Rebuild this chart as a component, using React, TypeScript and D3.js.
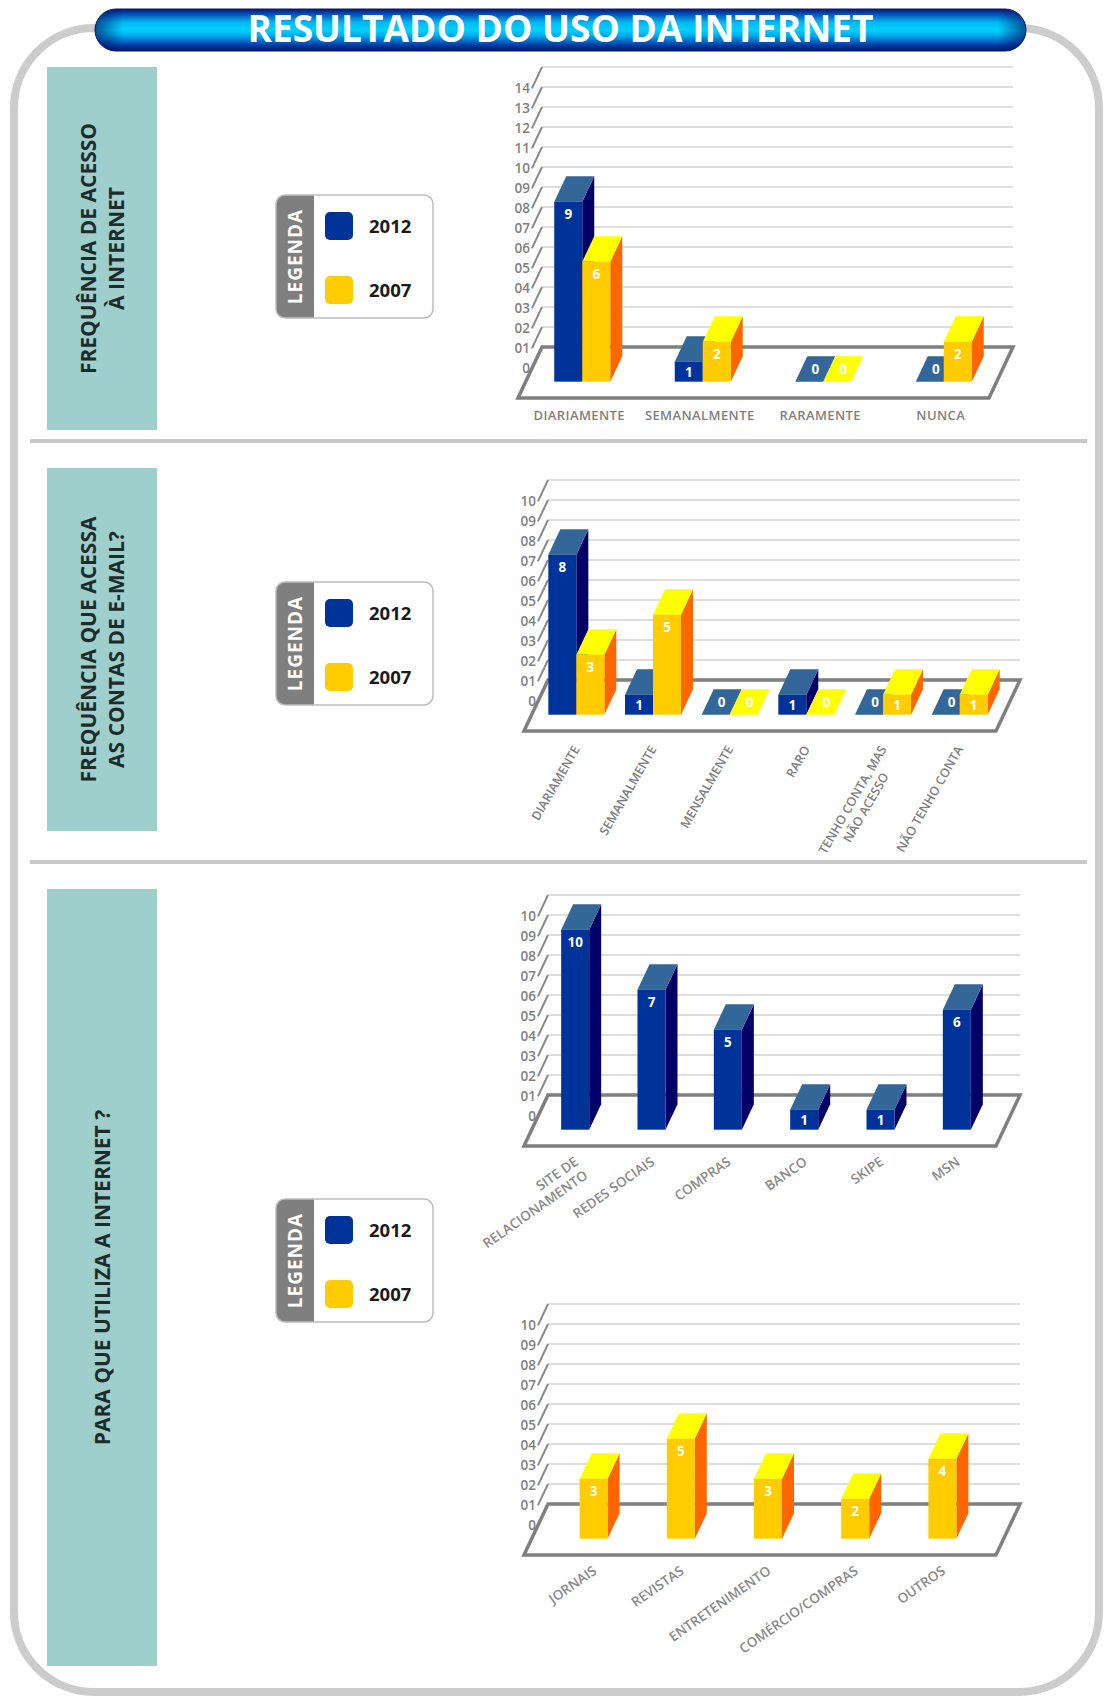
import React from 'react';
import * as d3 from 'd3';

// ---------------- DATA ----------------
const title = 'RESULTADO DO USO DA INTERNET';
const legendYears = ['2012', '2007'];

const freqCategories = ['DIARIAMENTE', 'SEMANALMENTE', 'RARAMENTE', 'NUNCA'];
const freq2012 = [9, 1, 0, 0];
const freq2007 = [6, 2, 0, 2];

const emailCategories = ['DIARIAMENTE', 'SEMANALMENTE', 'MENSALMENTE', 'RARO', 'TENHO CONTA, MAS\nNÃO ACESSO', 'NÃO TENHO CONTA'];
const email2012 = [8, 1, 0, 1, 0, 0];
const email2007 = [3, 5, 0, 0, 1, 1];

const useCategories = ['SITE DE\nRELACIONAMENTO', 'REDES SOCIAIS', 'COMPRAS', 'BANCO', 'SKIPE', 'MSN'];
const use2012 = [10, 7, 5, 1, 1, 6];

const mediaCategories = ['JORNAIS', 'REVISTAS', 'ENTRETENIMENTO', 'COMÉRCIO/COMPRAS', 'OUTROS'];
const media2007 = [3, 5, 3, 2, 4];

const ticks14 = ['0', '01', '02', '03', '04', '05', '06', '07', '08', '09', '10', '11', '12', '13', '14'];
const ticks10 = ['0', '01', '02', '03', '04', '05', '06', '07', '08', '09', '10'];

const sectionTitles = [
  ['FREQUÊNCIA DE ACESSO', 'À INTERNET'],
  ['FREQUÊNCIA QUE ACESSA', 'AS CONTAS DE E-MAIL?'],
  ['PARA QUE UTILIZA A INTERNET ?'],
];

// ---------------- STYLE / LAYOUT ----------------
const W = 1109, H = 1699;
const FONT = "'Open Sans', 'DejaVu Sans', sans-serif";
const PAL: Record<string, { front: string; side: string; top: string; key: string }> = {
  blue: { front: '#003399', side: '#000066', top: '#336699', key: '#003399' },
  yellow: { front: '#ffcc00', side: '#ff6600', top: '#ffff00', key: '#ffcc00' },
};
const DX = 24, DY = 51;          // floor depth vector (right, up)
const UNIT = 20;                 // px per unit
const BAR_W = 28;
const FRONT_FRAC = 0.68;         // bar front plane, fraction of depth from back wall
const BAR_DEPTH = 0.5;           // bar depth fraction
const SIDE_FRAC = 0.42;          // side wall depth fraction

let measureCtx: CanvasRenderingContext2D | null = null;
function textW(t: string, font: string) {
  if (!measureCtx) measureCtx = document.createElement('canvas').getContext('2d');
  if (!measureCtx) return t.length * 7;
  measureCtx.font = font;
  return measureCtx.measureText(t).width;
}

type SeriesCfg = { values: number[]; color: string };
type ChartCfg = {
  categories: string[];
  series: SeriesCfg[];
  ticks: string[];
  backY: number;
  backLeft: number;
  backRight: number;
  bandRange: [number, number];
  angle: number;
  align: 'center' | 'end';
  weight: number;
  labelSize: number;
  labelColor: string;
};

function pts(p: [number, number][]) {
  return p.map((d) => d.join(',')).join(' ');
}

function Chart3D({ cfg }: { cfg: ChartCfg }) {
  const { categories, series, ticks, backY, backLeft, backRight, bandRange, angle, align, weight, labelSize, labelColor } = cfg;
  const maxV = ticks.length - 1;
  const frontBottom = backY + FRONT_FRAC * DY;
  const floorFront = backY + DY;
  const y = d3.scaleLinear().domain([0, maxV]).range([frontBottom, frontBottom - maxV * UNIT]);
  const gy = d3.scaleLinear().domain([0, maxV]).range([backY, backY - maxV * UNIT]);
  const x = d3.scaleBand<string>().domain(categories).range(bandRange);
  const bdx = DX * BAR_DEPTH, bdy = -DY * BAR_DEPTH;
  const sdx = DX * SIDE_FRAC, sdy = DY * SIDE_FRAC;
  const n = series.length;

  const bars: JSX.Element[] = [];
  categories.forEach((c, ci) => {
    const cx = (x(c) as number) + x.bandwidth() / 2;
    series.forEach((s, si) => {
      const v = s.values[ci];
      const p = PAL[s.color];
      const x0 = cx - (n * BAR_W) / 2 + si * BAR_W;
      const x1 = x0 + BAR_W;
      const yb = y(0);
      const yt = y(v);
      const key = `${ci}-${si}`;
      if (v > 0) {
        bars.push(
          <g key={key}>
            <polygon points={pts([[x1, yt], [x1 + bdx, yt + bdy], [x1 + bdx, yb + bdy], [x1, yb]])} fill={p.side} />
            <polygon points={pts([[x0, yt], [x1, yt], [x1 + bdx, yt + bdy], [x0 + bdx, yt + bdy]])} fill={p.top} />
            <rect x={x0} y={yt} width={BAR_W} height={yb - yt} fill={p.front} />
            <text x={(x0 + x1) / 2} y={yt + Math.min(12.5, (yb - yt) / 2)} dy="0.36em" textAnchor="middle"
              fill="#fff" fontWeight={700} fontSize={13.5}>{v}</text>
          </g>
        );
      } else {
        bars.push(
          <g key={key}>
            <polygon points={pts([[x0, yb], [x1, yb], [x1 + bdx, yb + bdy], [x0 + bdx, yb + bdy]])} fill={p.top} />
            <text x={(x0 + x1) / 2 + bdx / 2} y={yb + bdy / 2} dy="0.36em" textAnchor="middle"
              fill="#fff" fontWeight={700} fontSize={13.5}>{v}</text>
          </g>
        );
      }
    });
  });

  const labelFont = `${weight} ${labelSize}px ${FONT}`;
  const catLabels = categories.map((c) => {
    const cx = (x(c) as number) + x.bandwidth() / 2;
    const lines = c.split('\n');
    if (angle === 0) {
      return (
        <text key={c} x={cx - 3} y={floorFront + 17} dy="0.36em" textAnchor="middle" fill={labelColor}
          fontWeight={weight} fontSize={labelSize} letterSpacing={0.4}>{c}</text>
      );
    }
    const widths = lines.map((l) => textW(l, labelFont));
    const maxW = Math.max(...widths);
    return (
      <g key={c} transform={`translate(${cx + 4},${floorFront + 18}) rotate(${angle})`}>
        {lines.map((l, li) => (
          <text key={li} x={align === 'center' ? -(maxW - widths[li]) / 2 : 0} y={li * (labelSize + 3)}
            textAnchor="end" fill={labelColor} fontWeight={weight} fontSize={labelSize}>{l}</text>
        ))}
      </g>
    );
  });

  return (
    <g>
      {ticks.map((t, v) => (
        <line key={'g' + v} x1={backLeft} x2={backRight} y1={gy(v)} y2={gy(v)} stroke="#d2d2d2" strokeWidth={1.5} />
      ))}
      {ticks.map((t, v) => (
        <line key={'s' + v} x1={backLeft - sdx} y1={gy(v) + sdy} x2={backLeft} y2={gy(v)} stroke="#8a8a8a" strokeWidth={2} />
      ))}
      {ticks.map((t, v) => (
        <text key={'t' + v} x={backLeft - sdx - 2} y={gy(v) + sdy} dy="0.36em" textAnchor="end"
          fill="#7f7f7f" fontWeight={600} fontSize={13.5}>{t}</text>
      ))}
      <polygon
        points={pts([[backLeft - DX, floorFront], [backRight - DX, floorFront], [backRight, backY], [backLeft, backY]])}
        fill="#fff" stroke="#7f7f7f" strokeWidth={3.5} strokeLinejoin="miter" />
      {bars}
      {catLabels}
    </g>
  );
}

function Legend({ y }: { y: number }) {
  const x = 276, w = 157, h = 123;
  const id = `lgclip${y}`;
  return (
    <g transform={`translate(${x},${y})`}>
      <defs>
        <clipPath id={id}><rect x={0} y={0} width={w} height={h} rx={9} /></clipPath>
      </defs>
      <rect x={0} y={0} width={w} height={h} rx={9} fill="#fff" />
      <rect x={0} y={0} width={38} height={h} fill="#7f7f7f" clipPath={`url(#${id})`} />
      <rect x={0} y={0} width={w} height={h} rx={9} fill="none" stroke="#bdbdbd" strokeWidth={1.5} />
      <text transform={`translate(19,${h / 2}) rotate(-90)`} textAnchor="middle" dy="0.36em" fill="#fff"
        fontWeight={700} fontSize={19} letterSpacing={1}>LEGENDA</text>
      {legendYears.map((yr, i) => (
        <g key={yr}>
          <rect x={49} y={17 + i * 64} width={28} height={28} rx={5} fill={i === 0 ? PAL.blue.key : PAL.yellow.key} />
          <text x={93} y={31 + i * 64} dy="0.36em" fill="#1a1a1a" fontWeight={700} fontSize={18.5}>{yr}</text>
        </g>
      ))}
    </g>
  );
}

const teal = [
  { y: 67, h: 363 },
  { y: 468, h: 363 },
  { y: 889, h: 777 },
];

export default function App() {
  const charts: ChartCfg[] = [
    {
      categories: freqCategories,
      series: [{ values: freq2012, color: 'blue' }, { values: freq2007, color: 'yellow' }],
      ticks: ticks14, backY: 347, backLeft: 542, backRight: 1013, bandRange: [522, 1004],
      angle: 0, align: 'center', weight: 600, labelSize: 13, labelColor: '#7f7f7f',
    },
    {
      categories: emailCategories,
      series: [{ values: email2012, color: 'blue' }, { values: email2007, color: 'yellow' }],
      ticks: ticks10, backY: 680, backLeft: 548, backRight: 1020, bandRange: [538, 998],
      angle: -60, align: 'center', weight: 600, labelSize: 12.5, labelColor: '#7f7f7f',
    },
    {
      categories: useCategories,
      series: [{ values: use2012, color: 'blue' }],
      ticks: ticks10, backY: 1095, backLeft: 548, backRight: 1020, bandRange: [537, 995],
      angle: -35, align: 'end', weight: 600, labelSize: 13.5, labelColor: '#8a8a8a',
    },
    {
      categories: mediaCategories,
      series: [{ values: media2007, color: 'yellow' }],
      ticks: ticks10, backY: 1504, backLeft: 548, backRight: 1020, bandRange: [550, 986],
      angle: -35, align: 'end', weight: 600, labelSize: 13.5, labelColor: '#8a8a8a',
    },
  ];

  return (
    <svg width={W} height={H} viewBox={`0 0 ${W} ${H}`}
      style={{ position: 'absolute', left: 0, top: 0, background: '#fff' }} fontFamily={FONT}>
      <defs>
        <linearGradient id="bannerV" x1="0" y1="0" x2="0" y2="1">
          <stop offset="0" stopColor="#0a1a6a" />
          <stop offset="0.1" stopColor="#0046b0" />
          <stop offset="0.32" stopColor="#00b8f2" />
          <stop offset="0.5" stopColor="#00d2ff" />
          <stop offset="0.64" stopColor="#00a8ec" />
          <stop offset="0.85" stopColor="#0040a8" />
          <stop offset="1" stopColor="#081668" />
        </linearGradient>
        <linearGradient id="bannerH" x1="0" y1="0" x2="1" y2="0">
          <stop offset="0" stopColor="#001060" stopOpacity={0.65} />
          <stop offset="0.03" stopColor="#001060" stopOpacity={0} />
          <stop offset="0.97" stopColor="#001060" stopOpacity={0} />
          <stop offset="1" stopColor="#001060" stopOpacity={0.65} />
        </linearGradient>
      </defs>

      <rect x={14} y={28} width={1085} height={1664} rx={80} fill="#fff" stroke="#cccccc" strokeWidth={8} />

      <g>
        <rect x={95} y={9} width={931} height={42} rx={21} fill="url(#bannerV)" />
        <rect x={95} y={9} width={931} height={42} rx={21} fill="url(#bannerH)" stroke="#0a1a60" strokeWidth={1} />
        <text x={560.5} y={42} textAnchor="middle" fill="#fff" fontWeight={700} fontSize={37}
          textLength={626} lengthAdjust="spacingAndGlyphs">{title}</text>
      </g>

      <line x1={30} x2={1087} y1={441} y2={441} stroke="#c8c8c8" strokeWidth={4} />
      <line x1={30} x2={1087} y1={862} y2={862} stroke="#c8c8c8" strokeWidth={4} />

      {teal.map((t, i) => {
        const lines = sectionTitles[i];
        return (
          <g key={i}>
            <rect x={47} y={t.y} width={110} height={t.h} fill="#9ecfcd" />
            <g transform={`translate(${102},${t.y + t.h / 2}) rotate(-90)`}>
              {lines.map((l, li) => (
                <text key={li} x={0} y={(li - (lines.length - 1) / 2) * 28} dy="0.36em" textAnchor="middle"
                  fill="#1e2b2b" fontWeight={700} fontSize={21}>{l}</text>
              ))}
            </g>
          </g>
        );
      })}

      <Legend y={195} />
      <Legend y={582} />
      <Legend y={1199} />

      {charts.map((c, i) => <Chart3D key={i} cfg={c} />)}
    </svg>
  );
}
